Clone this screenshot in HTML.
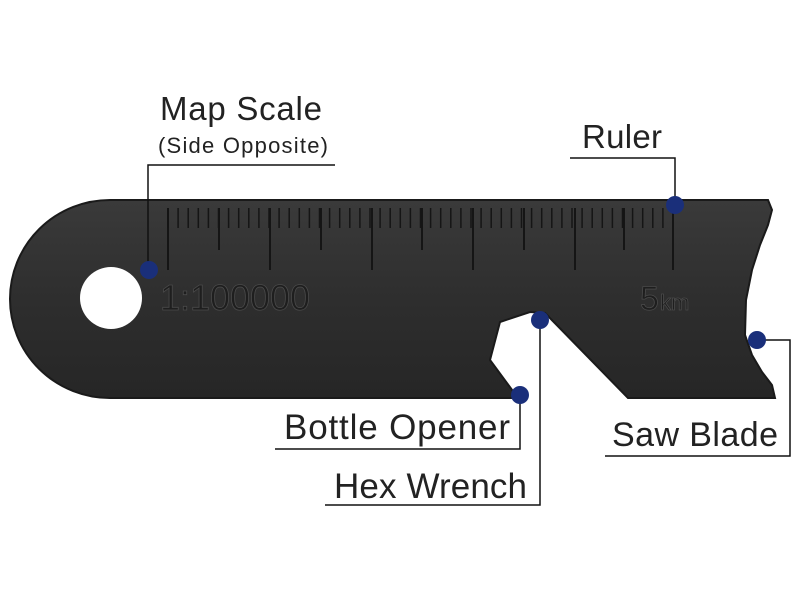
<!DOCTYPE html>
<html><head><style>body{margin:0;background:#fff}svg{display:block}</style></head><body>
<svg width="800" height="600" viewBox="0 0 800 600" font-family="Liberation Sans, DejaVu Sans, sans-serif">
<defs><linearGradient id="g" x1="0" y1="0" x2="0" y2="1"><stop offset="0" stop-color="#3a3a3a"/><stop offset="0.5" stop-color="#2e2e2e"/><stop offset="1" stop-color="#262626"/></linearGradient></defs>
<path d="M110,200 L768,200 L772,210 L768,225 L760,245 L752,270 L746,300 L745,335 L752,355 L762,372 L772,385 L775,398 L628,398 L545,313 L530,312 L500,322 L490,360 L518,398 L110,398 A100,99 0 0 1 110,200 Z" fill="url(#g)" stroke="#1a1a1a" stroke-width="2"/>
<circle cx="111" cy="298" r="31" fill="#fff"/>
<g stroke="#151515" stroke-width="2">
<path d="M168,208 V270 M270,208 V270 M372,208 V270 M473,208 V270 M575,208 V270 M673,208 V270 M219,208 V250 M321,208 V250 M422,208 V250 M524,208 V250 M624,208 V250"/>
</g>
<g stroke="#151515" stroke-width="1.5" id="t"></g>
<script>
var g=document.getElementById('t'),s='';for(var x=168;x<=673;x+=10.1){s+='M'+x.toFixed(1)+',208 V228 ';}
var p=document.createElementNS('http://www.w3.org/2000/svg','path');p.setAttribute('d',s);g.appendChild(p);
</script>
<text x="160" y="310" font-size="36" fill="#1e1e1e" stroke="#4a4a4a" stroke-width="0.8" textLength="150">1:100000</text>
<text x="640" y="310" font-size="34" fill="#1e1e1e" stroke="#4a4a4a" stroke-width="0.8">5</text>
<text x="660" y="310" font-size="22" fill="#1e1e1e" stroke="#4a4a4a" stroke-width="0.8">km</text>
<g stroke="#111" stroke-width="1.5" fill="none">
<path d="M148,270 V165 H335"/>
<path d="M675,205 V158 H570"/>
<path d="M520,395 V449 H275"/>
<path d="M540,320 V505 H325"/>
<path d="M757,340 H790 V456 H605"/>
</g>
<g fill="#1a2f7a">
<circle cx="149" cy="270" r="9"/><circle cx="675" cy="205" r="9"/><circle cx="520" cy="395" r="9"/><circle cx="540" cy="320" r="9"/><circle cx="757" cy="340" r="9"/>
</g>
<g fill="#222">
<text x="160" y="120" font-size="33" textLength="162">Map Scale</text>
<text x="158" y="153" font-size="22" textLength="170">(Side Opposite)</text>
<text x="582" y="148" font-size="33" textLength="80">Ruler</text>
<text x="284" y="439" font-size="35" textLength="226">Bottle Opener</text>
<text x="334" y="498" font-size="35" textLength="193">Hex Wrench</text>
<text x="612" y="446" font-size="34" textLength="166">Saw Blade</text>
</g>
</svg>
</body></html>
